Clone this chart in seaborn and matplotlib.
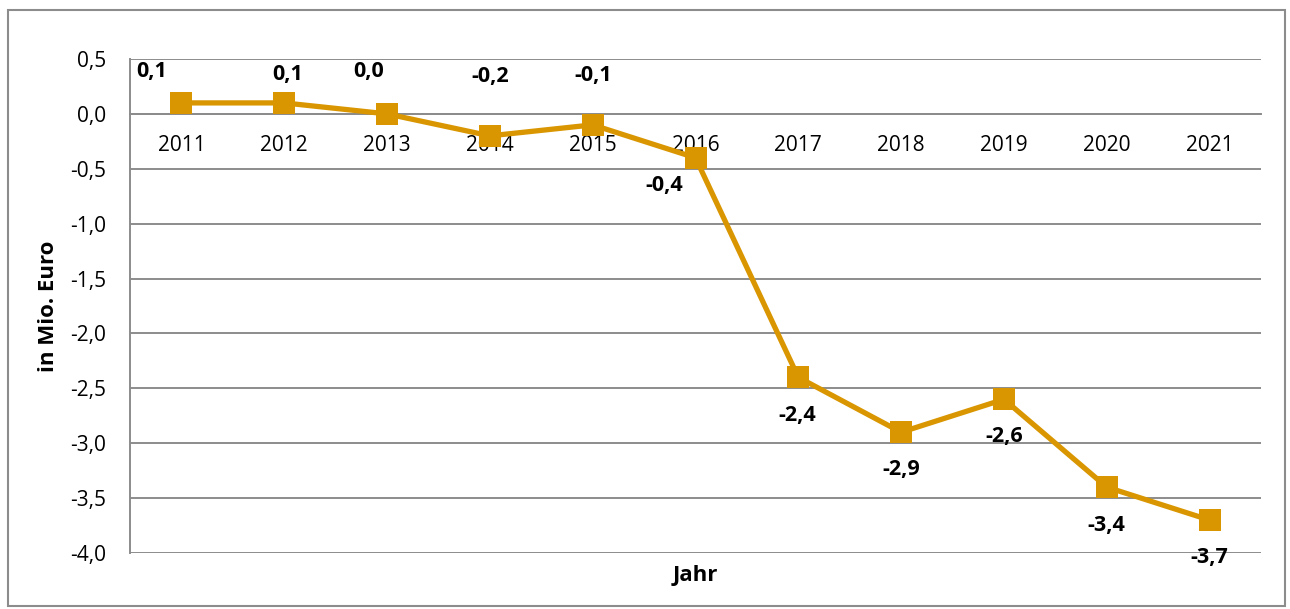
import numpy as np
import matplotlib
matplotlib.use("Agg")
import matplotlib.pyplot as plt
import seaborn as sns
from matplotlib.patches import Rectangle
from matplotlib.ticker import FixedLocator, FuncFormatter

# Daten
jahre = ["2011", "2012", "2013", "2014", "2015", "2016",
         "2017", "2018", "2019", "2020", "2021"]
werte = [0.1, 0.1, 0.0, -0.2, -0.1, -0.4, -2.4, -2.9, -2.6, -3.4, -3.7]
beschriftung = ["0,1", "0,1", "0,0", "-0,2", "-0,1", "-0,4",
                "-2,4", "-2,9", "-2,6", "-3,4", "-3,7"]

# Verschiebung der Beschriftungen (Pixel)
label_dx = [-30, 3, -18, 0, 1, -31, -1, 0, 0, 0, 0]
label_dy = [31, 28, 42, 59, 49, -28, -38, -37, -37, -38, -37]

sns.set_style("white")
plt.rcParams['font.family'] = ['Open Sans', 'DejaVu Sans']
plt.rcParams['text.color'] = 'black'
plt.rcParams['axes.labelcolor'] = 'black'

farbe = "#D99600"
grau = "#8c8c8c"

fig = plt.figure(figsize=(12.9, 6.09), dpi=100)
ax = fig.add_axes([130 / 1290, 1 - 553 / 609, 1131 / 1290, 494 / 609])

pos = np.arange(len(jahre))
sns.lineplot(x=pos, y=werte, ax=ax, color=farbe, linewidth=3.8,
             marker="s", markersize=16, markeredgewidth=0, zorder=5)

for i, (v, t) in enumerate(zip(werte, beschriftung)):
  ax.annotate(t, (pos[i], v), xytext=(label_dx[i], label_dy[i]),
              textcoords="offset pixels", ha="center", va="center",
              fontsize=15.5, fontweight="bold", color="black")

ax.set_xlim(-0.5, len(jahre) - 0.5)
ax.set_ylim(-4.0, 0.5)
yt = np.arange(-4.0, 0.51, 0.5)
ax.set_yticks(yt)
ax.yaxis.set_major_formatter(FuncFormatter(lambda v, p: f"{v:.1f}".replace(".", ",")))
ax.grid(axis="y", color=grau, linewidth=1.4)
ax.tick_params(axis="y", length=6, color=grau, width=1.4, labelsize=15,
               pad=11, labelcolor="black")

# x-Achse bei Null
for s in ["top", "right"]:
  ax.spines[s].set_visible(False)
ax.spines["left"].set_color(grau)
ax.spines["left"].set_linewidth(1.4)
ax.spines["bottom"].set_position(("data", 0))
ax.spines["bottom"].set_color(grau)
ax.spines["bottom"].set_linewidth(1.4)
ax.xaxis.set_major_locator(FixedLocator(np.arange(0.5, len(jahre), 1.0)))
ax.xaxis.set_major_formatter(FuncFormatter(lambda v, p: ""))
ax.set_xticks(pos, labels=jahre, minor=True)
ax.tick_params(axis="x", which="major", direction="out", length=6,
               color=grau, width=1.4)
ax.tick_params(axis="x", which="minor", length=0, labelsize=15, pad=15,
               labelcolor="black")

ax.set_ylabel("in Mio. Euro", fontsize=16, fontweight="bold", labelpad=8)
fig.text(695 / 1290, 1 - 575 / 609, "Jahr", ha="center", va="center",
         fontsize=16, fontweight="bold")

# Rahmen
fig.patches.append(Rectangle((8 / 1290, 3 / 609), 1277 / 1290, 596 / 609,
                             transform=fig.transFigure, fill=False,
                             edgecolor=grau, linewidth=1.5))

fig.savefig("out.png", dpi=100)
